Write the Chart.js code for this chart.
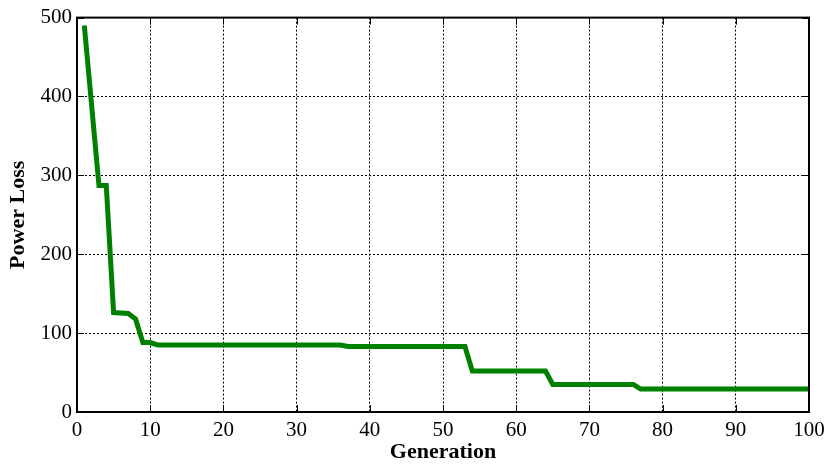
<!DOCTYPE html>
<html>
<head>
<meta charset="utf-8">
<script src="https://cdn.jsdelivr.net/npm/chart.js@4/dist/chart.umd.min.js"></script>
<style>
  html, body { margin: 0; padding: 0; background: #fff; }
  #wrap { width: 827px; height: 466px; }
</style>
</head>
<body>
<div id="wrap"><canvas id="chart"></canvas></div>
<script>
// breakpoints of the convergence curve
const generations = [1, 3, 4, 5, 7, 8, 9, 10, 11, 36, 37, 53, 54, 64, 65, 76, 77, 100];
const powerLoss   = [490, 287, 287, 126, 125, 118, 88, 88, 85, 85, 83, 83, 52, 52, 35, 35, 29, 29];

const xTicks = [0, 10, 20, 30, 40, 50, 60, 70, 80, 90, 100];
const yTicks = [0, 100, 200, 300, 400, 500];

const SERIF = "'Liberation Serif', 'Times New Roman', serif";

// frame around the plot and inward tick marks on all four sides
const framePlugin = {
  id: 'frame',
  afterDraw(chart) {
    const { ctx, chartArea: a, scales } = chart;
    const len = 7;
    ctx.save();
    ctx.strokeStyle = '#000';
    ctx.lineWidth = 1;
    ctx.beginPath();
    xTicks.forEach(v => {
      const px = Math.round(scales.x.getPixelForValue(v)) + 0.5;
      ctx.moveTo(px, a.bottom); ctx.lineTo(px, a.bottom - len);
      ctx.moveTo(px, a.top);    ctx.lineTo(px, a.top + len);
    });
    yTicks.forEach(v => {
      const py = Math.round(scales.y.getPixelForValue(v)) + 0.5;
      ctx.moveTo(a.left, py);  ctx.lineTo(a.left + len, py);
      ctx.moveTo(a.right, py); ctx.lineTo(a.right - len, py);
    });
    ctx.stroke();
    ctx.lineWidth = 2;
    ctx.strokeRect(a.left, a.top, a.right - a.left, a.bottom - a.top);
    ctx.restore();
  }
};

const ctx = document.getElementById('chart').getContext('2d');
new Chart(ctx, {
  type: 'line',
  data: {
    datasets: [{
      data: generations.map((g, i) => ({ x: g, y: powerLoss[i] })),
      borderColor: '#008000',
      borderWidth: 5,
      pointRadius: 0,
      tension: 0,
      fill: false
    }]
  },
  options: {
    responsive: true,
    maintainAspectRatio: false,
    animation: false,
    layout: { padding: { left: 0, right: 18, top: 16, bottom: 0 } },
    plugins: { legend: { display: false }, tooltip: { enabled: false } },
    scales: {
      x: {
        type: 'linear',
        min: 0, max: 100,
        afterFit(s) { s.height = 54; s.paddingRight = 0; },
        afterBuildTicks(s) { s.ticks = xTicks.map(v => ({ value: v })); },
        grid: { color: '#000', lineWidth: 1, drawTicks: false },
        border: { display: false, dash: [2, 2] },
        ticks: { color: '#000', padding: 6, maxRotation: 0, font: { family: SERIF, size: 21 } },
        title: {
          display: true, text: 'Generation', color: '#000',
          padding: { top: 1, bottom: 0 },
          font: { family: SERIF, size: 22, weight: 'bold' }
        }
      },
      y: {
        min: 0, max: 500,
        afterFit(s) { s.width = 77; },
        afterBuildTicks(s) { s.ticks = yTicks.map(v => ({ value: v })); },
        grid: { color: '#000', lineWidth: 1, drawTicks: false },
        border: { display: false, dash: [2, 2] },
        ticks: { color: '#000', padding: 5, font: { family: SERIF, size: 21 } },
        title: {
          display: true, text: 'Power Loss', color: '#000',
          padding: { top: 5, bottom: 0 },
          font: { family: SERIF, size: 22, weight: 'bold' }
        }
      }
    }
  },
  plugins: [framePlugin]
});
</script>
</body>
</html>
